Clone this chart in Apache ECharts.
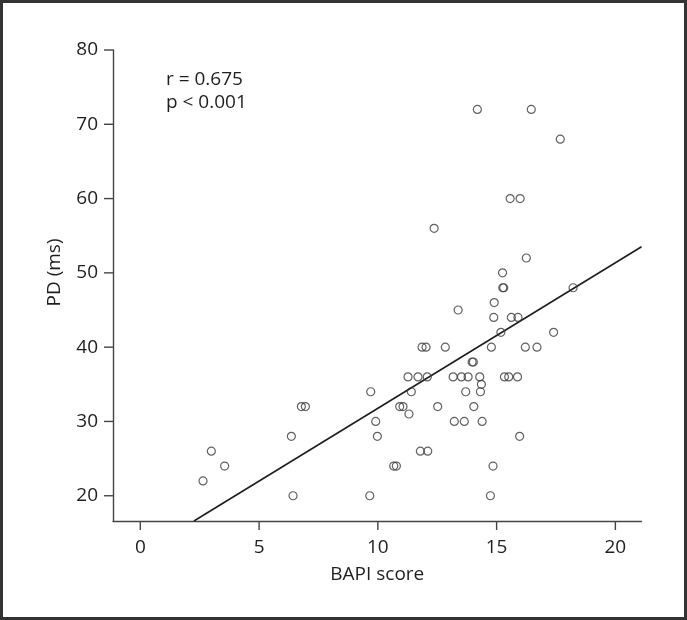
<!DOCTYPE html>
<html>
<head>
<meta charset="utf-8">
<script src="https://cdn.jsdelivr.net/npm/echarts@6/dist/echarts.min.js"></script>
<style>
  html, body { margin: 0; padding: 0; background: #fff; }
  #chart { width: 687px; height: 620px; }
</style>
</head>
<body>
<div id="chart"></div>
<script>
// BAPI score (x) and PD in ms (y)
var bapiScore = [2.64, 2.99, 3.55, 6.36, 6.43, 6.78, 6.95, 9.66, 9.70, 9.91, 9.98,
  10.67, 10.78, 10.92, 11.06, 11.27, 11.31, 11.41, 11.69, 11.79, 11.86, 12.03,
  12.08, 12.10, 12.37, 12.52, 12.84, 13.17, 13.22, 13.38, 13.52, 13.64, 13.70,
  13.80, 13.97, 14.02, 14.04, 14.19, 14.29, 14.32, 14.36, 14.39, 14.74, 14.78,
  14.85, 14.88, 14.90, 15.18, 15.25, 15.26, 15.30, 15.33, 15.51, 15.57, 15.62,
  15.88, 15.90, 15.97, 15.99, 16.21, 16.25, 16.46, 16.70, 17.40, 17.68, 18.22];
var pdMs = [22, 26, 24, 28, 20, 32, 32, 20, 34, 30, 28,
  24, 24, 32, 32, 36, 31, 34, 36, 26, 40, 40,
  36, 26, 56, 32, 40, 36, 30, 45, 36, 30, 34,
  36, 38, 38, 32, 72, 36, 34, 35, 30, 20, 40,
  24, 44, 46, 42, 50, 48, 48, 36, 36, 60, 44,
  36, 44, 28, 60, 40, 52, 72, 40, 42, 68, 48];

// tick labels
var xTicks = [0, 5, 10, 15, 20];
var yTicks = [20, 30, 40, 50, 60, 70, 80];

// fitted line y = a + b*x
var fitIntercept = 12.18;
var fitSlope = 1.959;

// axis ranges as drawn (axis lines run past the first/last tick)
var xMin = -1.15, xMax = 21.1;
var yMin = 16.6, yMax = 80;

var points = bapiScore.map(function (x, i) { return [x, pdMs[i]]; });
var lineStart = (yMin - fitIntercept) / fitSlope;
var fitLine = [
  [lineStart, yMin],
  [xMax, fitIntercept + fitSlope * xMax]
];

var font = '"Open Sans", "Noto Sans", sans-serif';
var axisColor = '#444';
var textColor = '#1e1e1e';
var tickLen = 9;
var tickW = 1.4;

var myChart = echarts.init(document.getElementById('chart'));
myChart.setOption({
  animation: false,
  backgroundColor: '#fff',
  grid: { left: 113, right: 45.5, top: 50, bottom: 99 },
  xAxis: {
    type: 'value',
    min: xMin,
    max: xMax,
    name: 'BAPI score',
    nameLocation: 'middle',
    nameGap: 44,
    nameTextStyle: { fontFamily: font, fontSize: 19, color: textColor },
    axisLine: { show: true, onZero: false, lineStyle: { color: axisColor, width: tickW } },
    axisTick: { show: false },
    axisLabel: { customValues: xTicks, margin: 17, fontFamily: font, fontSize: 19, color: textColor },
    splitLine: { show: false }
  },
  yAxis: {
    type: 'value',
    min: yMin,
    max: yMax,
    name: 'PD (ms)',
    nameLocation: 'middle',
    nameGap: 49,
    nameTextStyle: { fontFamily: font, fontSize: 19, color: textColor, padding: [0, 0, 0, 26] },
    axisLine: { show: true, onZero: false, lineStyle: { color: axisColor, width: tickW } },
    axisTick: { show: false },
    axisLabel: { customValues: yTicks, margin: 15, fontFamily: font, fontSize: 19, color: textColor },
    splitLine: { show: false }
  },
  series: [
    {
      type: 'scatter',
      data: points,
      symbol: 'circle',
      symbolSize: 8,
      itemStyle: { color: 'rgba(255,255,255,0)', borderColor: '#3a3a3a', borderWidth: 1.2 },
      z: 3
    },
    {
      type: 'line',
      data: fitLine,
      showSymbol: false,
      symbol: 'none',
      lineStyle: { color: '#1e1e1e', width: 1.6 },
      z: 2
    }
  ]
});

// frame, stats note and tick marks; ticks are placed with the chart's own scales
var extras = [
  {
    id: 'frame',
    type: 'rect',
    shape: { x: 1.5, y: 1.5, width: 684, height: 617 },
    style: { fill: 'none', stroke: '#333', lineWidth: 3 }
  },
  {
    id: 'stats',
    type: 'text',
    left: 166,
    top: 68,
    style: {
      text: 'r = 0.675\np < 0.001',
      font: '19px ' + font,
      lineHeight: 23,
      fill: textColor
    }
  }
];
xTicks.forEach(function (v, i) {
  var p = myChart.convertToPixel({ seriesIndex: 0 }, [v, yMin]);
  if (!p || isNaN(p[0])) return;
  extras.push({
    id: 'xt' + i,
    type: 'rect',
    z: 10,
    shape: { x: p[0] - tickW / 2, y: p[1], width: tickW, height: tickLen },
    style: { fill: axisColor }
  });
});
yTicks.forEach(function (v, i) {
  var p = myChart.convertToPixel({ seriesIndex: 0 }, [xMin, v]);
  if (!p || isNaN(p[1])) return;
  extras.push({
    id: 'yt' + i,
    type: 'rect',
    z: 10,
    shape: { x: p[0] - tickLen, y: p[1] - tickW / 2, width: tickLen, height: tickW },
    style: { fill: axisColor }
  });
});
myChart.setOption({ graphic: extras });
</script>
</body>
</html>
